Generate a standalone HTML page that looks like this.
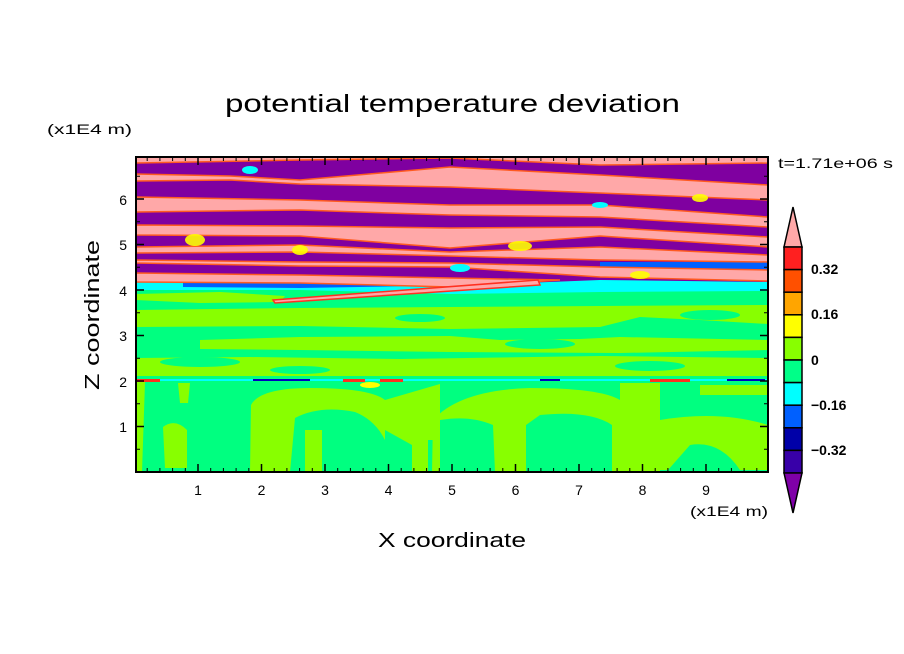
<!DOCTYPE html>
<html><head><meta charset="utf-8"><style>
html,body{margin:0;padding:0;background:#fff;}
svg{display:block;}
text{font-family:"Liberation Sans","DejaVu Sans",sans-serif;fill:#000;}
</style></head><body>
<svg width="904" height="654" viewBox="0 0 904 654" xmlns="http://www.w3.org/2000/svg">
<defs><clipPath id="pc"><rect x="136" y="157" width="632" height="315"/></clipPath></defs>
<text x="225" y="112" font-size="25" textLength="455" lengthAdjust="spacingAndGlyphs">potential temperature deviation</text>
<text x="47" y="134" font-size="14" textLength="85" lengthAdjust="spacingAndGlyphs">(x1E4 m)</text>
<text x="778" y="168" font-size="14" textLength="115" lengthAdjust="spacingAndGlyphs">t=1.71e+06 s</text>
<text x="690" y="516" font-size="14" textLength="78" lengthAdjust="spacingAndGlyphs">(x1E4 m)</text>
<text x="378" y="547" font-size="20" textLength="148" lengthAdjust="spacingAndGlyphs">X coordinate</text>
<text transform="translate(99,390) rotate(-90)" font-size="20" textLength="150" lengthAdjust="spacingAndGlyphs">Z coordinate</text>

<g clip-path="url(#pc)">
<rect x="136" y="157" width="632" height="315" fill="#00ff80"/>
<rect x="136" y="157" width="632" height="128" fill="#7f00a0"/>
<path d="M136 282 L300 284 L450 286 L600 280 L768 282 L768 291 L600 292 L450 294 L300 290 L136 290 Z" fill="#00ffff"/>
<path d="M183 280 L416 280 L416 286 L300 288 L183 287 Z" fill="#0060ff"/>
<path d="M600 262 L768 262 L768 270 L600 268 Z" fill="#0060ff"/>
<g fill="#ffa8a8" stroke="#ff5a20" stroke-width="1.5">
<path d="M136 157 L768 157 L768 163 L600 165 L450 158 L300 160 L136 163 Z"/>
<path d="M136 174 L230 176 L300 180 L450 167 L600 175 L768 185 L768 200 L600 193 L450 187 L300 184 L230 180 L136 181 Z"/>
<path d="M136 197 L300 200 L450 205 L600 205 L768 217 L768 227 L600 217 L450 215 L300 210 L136 212 Z"/>
<path d="M136 225 L300 226 L450 228 L600 227 L768 237 L768 247 L600 236 L450 248 L300 236 L136 235 Z"/>
<path d="M136 247 L300 245 L450 252 L600 247 L768 255 L768 262 L600 260 L450 256 L300 252 L136 253 Z"/>
<path d="M136 260 L300 262 L450 263 L600 267 L768 270 L768 281 L600 277 L450 267 L300 266 L136 263 Z"/>
<path d="M136 273 L300 275 L450 278 L560 280 L450 287 L300 283 L136 282 Z"/>
</g>
<g fill="#ffff00" opacity="0.9">
<ellipse cx="195" cy="240" rx="10" ry="6"/><ellipse cx="520" cy="246" rx="12" ry="5"/>
<ellipse cx="640" cy="275" rx="10" ry="4"/><ellipse cx="300" cy="250" rx="8" ry="5"/>
<ellipse cx="700" cy="198" rx="8" ry="4"/>
</g>
<g fill="#00ffff">
<ellipse cx="250" cy="170" rx="8" ry="4"/><ellipse cx="600" cy="205" rx="8" ry="3"/><ellipse cx="460" cy="268" rx="10" ry="4"/>
</g>
<g fill="#88ff00">
<path d="M136 294 L220 292 L285 296 L280 302 L200 303 L136 300 Z"/>
<path d="M136 310 L300 308 L450 307 L600 306 L768 305 L768 324 L700 320 L640 317 L600 327 L450 329 L300 326 L136 327 Z"/>
<path d="M200 340 L300 337 L450 336 L500 340 L580 339 L620 337 L768 340 L768 350 L620 353 L450 352 L300 350 L200 349 Z"/>
<path d="M136 358 L250 357 L400 359 L600 356 L768 358 L768 376 L600 376 L400 376 L136 376 Z"/>
<path d="M163 427 Q175 418 187 430 L187 468 L165 468 Z"/>
<path d="M178 383 L190 383 L188 403 L180 403 Z"/>
<path d="M250 472 L251 405 Q260 388 310 388 Q370 388 385 400 L440 384 L440 440 L428 440 L428 472 L412 472 L412 445 L385 430 L385 440 Q375 420 355 412 Q320 405 295 418 L290 472 Z"/>
<path d="M305 430 L322 430 L322 472 L305 472 Z"/>
<path d="M432 472 L433 420 Q460 390 530 388 Q600 388 620 400 L620 472 L612 472 L612 425 Q590 410 540 415 L526 425 L526 472 L495 472 L493 425 Q470 415 440 420 L440 472 Z"/>
<path d="M620 383 L660 383 L660 472 L620 472 Z"/>
<path d="M660 420 Q720 410 768 425 L768 470 L740 470 Q720 440 690 445 L668 470 L660 470 Z"/>
<path d="M136 382 L145 382 L142 472 L136 472 Z"/>
<path d="M700 385 L768 385 L768 395 L700 395 Z"/>
</g>
<g fill="#00ff80">
<ellipse cx="200" cy="362" rx="40" ry="5"/><ellipse cx="650" cy="366" rx="35" ry="5"/>
<ellipse cx="710" cy="315" rx="30" ry="5"/><ellipse cx="540" cy="344" rx="35" ry="5"/>
<ellipse cx="420" cy="318" rx="25" ry="4"/><ellipse cx="300" cy="370" rx="30" ry="4"/>
</g>
<path d="M273 300 L538 280 L540 285 L275 303 Z" fill="#ffa8a8" stroke="#ff3020" stroke-width="1.5"/>
<rect x="136" y="379" width="632" height="2" fill="#00ffff"/>
<g fill="#ff3020"><rect x="136" y="379" width="24" height="3"/><rect x="343" y="379" width="22" height="3"/><rect x="380" y="379" width="23" height="3"/><rect x="650" y="379" width="40" height="3"/></g>
<g fill="#0000c0"><rect x="253" y="379" width="57" height="2"/><rect x="540" y="379" width="20" height="2"/><rect x="727" y="379" width="38" height="2"/></g>
<ellipse cx="370" cy="385" rx="10" ry="3" fill="#ffff00"/>
</g>
<rect x="136" y="157" width="632" height="315" fill="none" stroke="#000" stroke-width="2"/>
<g stroke="#000" stroke-width="1.5">
<path d="M198 472v-8M261.5 472v-8M325 472v-8M388.5 472v-8M452 472v-8M515.5 472v-8M579 472v-8M642.5 472v-8M706 472v-8
M198 157v8M261.5 157v8M325 157v8M388.5 157v8M452 157v8M515.5 157v8M579 157v8M642.5 157v8M706 157v8
M136 426.5h8M136 381h8M136 335.5h8M136 290h8M136 244.5h8M136 199h8
M768 426.5h-8M768 381h-8M768 335.5h-8M768 290h-8M768 244.5h-8M768 199h-8"/>
</g>
<g stroke="#000" stroke-width="1">
<path d="M147.2 472v-4M159.9 472v-4M172.6 472v-4M185.3 472v-4M210.7 472v-4M223.4 472v-4M236.1 472v-4M248.8 472v-4M274.2 472v-4M286.9 472v-4M299.6 472v-4M312.3 472v-4M337.7 472v-4M350.4 472v-4M363.1 472v-4M375.8 472v-4M401.2 472v-4M413.9 472v-4M426.6 472v-4M439.3 472v-4M464.7 472v-4M477.4 472v-4M490.1 472v-4M502.8 472v-4M528.2 472v-4M540.9 472v-4M553.6 472v-4M566.3 472v-4M591.7 472v-4M604.4 472v-4M617.1 472v-4M629.8 472v-4M655.2 472v-4M667.9 472v-4M680.6 472v-4M693.3 472v-4M718.7 472v-4M731.4 472v-4M744.1 472v-4M756.8 472v-4
M147.2 157v4M159.9 157v4M172.6 157v4M185.3 157v4M210.7 157v4M223.4 157v4M236.1 157v4M248.8 157v4M274.2 157v4M286.9 157v4M299.6 157v4M312.3 157v4M337.7 157v4M350.4 157v4M363.1 157v4M375.8 157v4M401.2 157v4M413.9 157v4M426.6 157v4M439.3 157v4M464.7 157v4M477.4 157v4M490.1 157v4M502.8 157v4M528.2 157v4M540.9 157v4M553.6 157v4M566.3 157v4M591.7 157v4M604.4 157v4M617.1 157v4M629.8 157v4M655.2 157v4M667.9 157v4M680.6 157v4M693.3 157v4M718.7 157v4M731.4 157v4M744.1 157v4M756.8 157v4
M136 449.3h4M136 403.8h4M136 358.3h4M136 312.8h4M136 267.3h4M136 221.8h4M136 176.3h4
M768 449.3h-4M768 403.8h-4M768 358.3h-4M768 312.8h-4M768 267.3h-4M768 221.8h-4M768 176.3h-4"/>
</g>
<g font-size="14" text-anchor="middle">
<text x="198" y="495">1</text><text x="261.5" y="495">2</text><text x="325" y="495">3</text><text x="388.5" y="495">4</text><text x="452" y="495">5</text><text x="515.5" y="495">6</text><text x="579" y="495">7</text><text x="642.5" y="495">8</text><text x="706" y="495">9</text>
</g>
<g font-size="14" text-anchor="end">
<text x="127" y="432">1</text><text x="127" y="387">2</text><text x="127" y="341">3</text><text x="127" y="296">4</text><text x="127" y="250">5</text><text x="127" y="205">6</text>
</g>
<g stroke="#000" stroke-width="1.5">
<path d="M784 247 L793 207 L802 247 Z" fill="#ffa8a8"/>
<rect x="784" y="247" width="18" height="22.6" fill="#ff2020"/>
<rect x="784" y="269.6" width="18" height="22.6" fill="#ff5000"/>
<rect x="784" y="292.2" width="18" height="22.6" fill="#ffa500"/>
<rect x="784" y="314.8" width="18" height="22.6" fill="#ffff00"/>
<rect x="784" y="337.4" width="18" height="22.6" fill="#88ff00"/>
<rect x="784" y="360" width="18" height="22.6" fill="#00ff88"/>
<rect x="784" y="382.6" width="18" height="22.6" fill="#00ffff"/>
<rect x="784" y="405.2" width="18" height="22.6" fill="#0060ff"/>
<rect x="784" y="427.8" width="18" height="22.6" fill="#0000a8"/>
<rect x="784" y="450.4" width="18" height="22.6" fill="#3800a8"/>
<path d="M784 473 L793 513 L802 473 Z" fill="#7f00a8"/>
</g>
<g font-size="14" font-weight="bold">
<text x="811" y="274">0.32</text><text x="811" y="319">0.16</text><text x="811" y="365">0</text><text x="811" y="410">−0.16</text><text x="811" y="455">−0.32</text>
</g>
</svg>
</body></html>
